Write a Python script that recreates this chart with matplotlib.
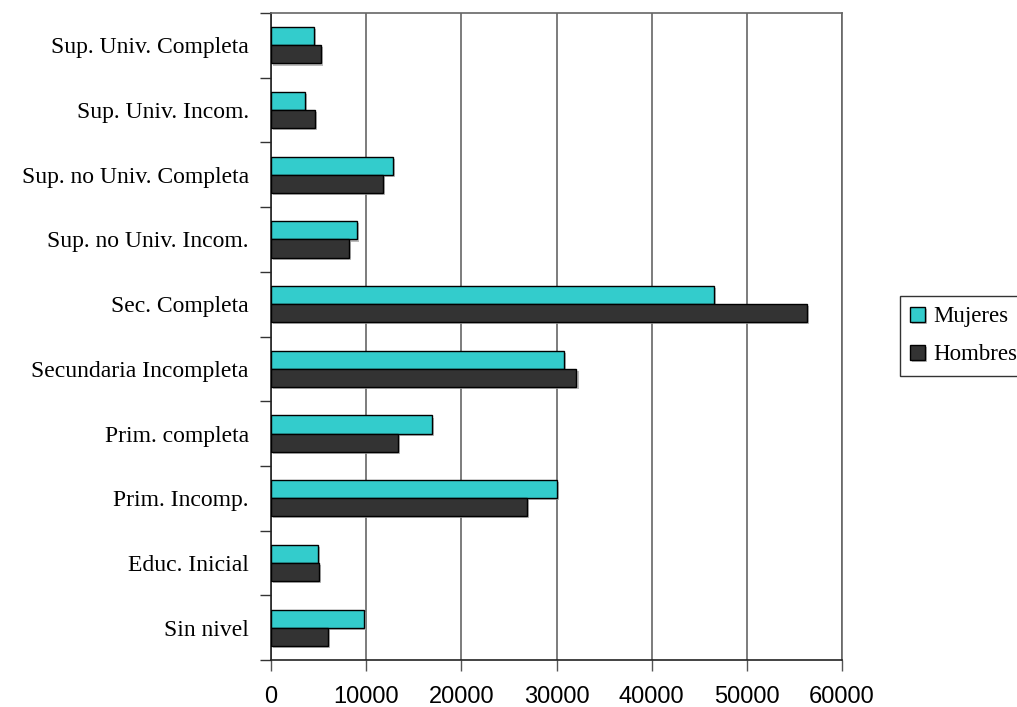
import matplotlib
matplotlib.use("Agg")
import matplotlib.pyplot as plt
import matplotlib.patheffects as pe
import numpy as np

categories = ["Sin nivel", "Educ. Inicial", "Prim. Incomp.", "Prim. completa",
              "Secundaria Incompleta", "Sec. Completa", "Sup. no Univ. Incom.",
              "Sup. no Univ. Completa", "Sup. Univ. Incom.", "Sup. Univ. Completa"]
mujeres = [9800, 4980, 30000, 16960, 30800, 46550, 9000, 12780, 3570, 4550]
hombres = [6030, 5000, 26900, 13360, 32100, 56300, 8190, 11760, 4590, 5220]
xticks = [0, 10000, 20000, 30000, 40000, 50000, 60000]

W, H = 1017, 707
fig = plt.figure(figsize=(W / 100, H / 100), dpi=100)
ax = fig.add_axes([271 / W, 1 - 660 / H, (842 - 271) / W, (660 - 13) / H])

y = np.arange(len(categories))
bh = 0.28
shadow = [pe.SimplePatchShadow(offset=(1.5, -1.5), shadow_rgbFace="#aaaaaa", alpha=0.8), pe.Normal()]
b1 = ax.barh(y + bh / 2, mujeres, height=bh, color="#33CCCC", edgecolor="black",
             linewidth=1.0, label="Mujeres", zorder=3, path_effects=shadow)
b2 = ax.barh(y - bh / 2, hombres, height=bh, color="#333333", edgecolor="black",
             linewidth=1.0, label="Hombres", zorder=3, path_effects=shadow)

ax.set_xlim(0, 60000)
ax.set_ylim(-0.5, len(categories) - 0.5)
ax.set_xticks(xticks)
ax.set_xticklabels([str(v) for v in xticks], fontsize=17, family="Liberation Sans")
ax.tick_params(axis="x", length=8, width=1, color="#555555", pad=11, direction="out")
ax.xaxis.grid(True, color="#666666", linewidth=1.2, zorder=0)

ax.set_yticks(y)
ax.set_yticklabels(categories, fontsize=17, family="Liberation Serif")
ax.tick_params(axis="y", which="major", length=0, pad=16)
ax.set_yticks(np.arange(-0.5, len(categories), 1.0), minor=True)
ax.tick_params(axis="y", which="minor", length=8, width=1, color="#333333", direction="out")

for s in ["top", "right"]:
    ax.spines[s].set_color("#666666")
    ax.spines[s].set_linewidth(1.2)
for s in ["left", "bottom"]:
    ax.spines[s].set_color("#222222")
    ax.spines[s].set_linewidth(1.2)

leg = fig.legend(handles=[b1, b2], labels=["Mujeres", "Hombres"],
                 loc="upper left", bbox_to_anchor=(900 / W, 1 - 296 / H),
                 frameon=True, fancybox=False, edgecolor="black",
                 prop={"family": "Liberation Serif", "size": 16.5},
                 handlelength=0.65, handleheight=0.65, handletextpad=0.35,
                 borderpad=0.45, labelspacing=0.75, borderaxespad=0)
leg.get_frame().set_linewidth(1.0)

fig.savefig("out.png", dpi=100)
